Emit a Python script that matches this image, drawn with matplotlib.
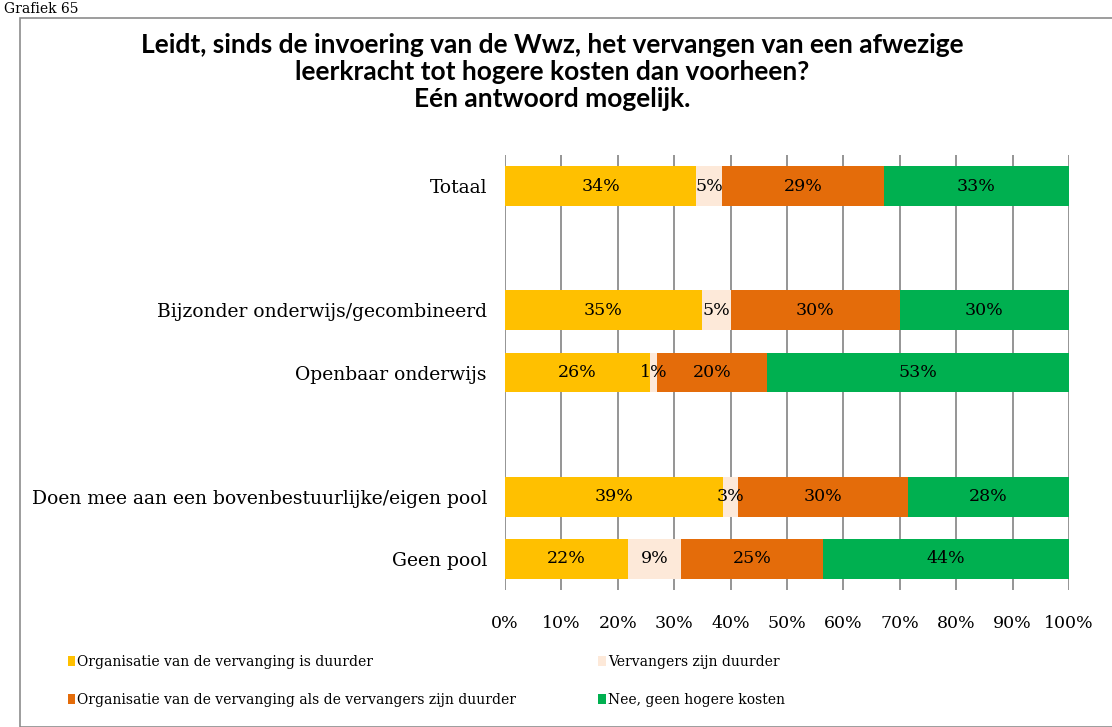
import matplotlib
matplotlib.use("Agg")
import matplotlib.pyplot as plt
from matplotlib.patches import Rectangle
import numpy as np

categories = ["Totaal", "Bijzonder onderwijs/gecombineerd", "Openbaar onderwijs",
              "Doen mee aan een bovenbestuurlijke/eigen pool", "Geen pool"]
positions = [0, 2, 3, 5, 6]
series_names = ["Organisatie van de vervanging is duurder",
                "Vervangers zijn duurder",
                "Organisatie van de vervanging als de vervangers zijn duurder",
                "Nee, geen hogere kosten"]
org_duurder = [33.9, 34.9, 25.7, 38.7, 21.8]
vervangers_duurder = [4.6, 5.2, 1.3, 2.6, 9.4]
beide_duurder = [28.7, 29.9, 19.5, 30.2, 25.2]
nee = [32.8, 30.0, 53.5, 28.5, 43.6]
value_labels = [["34%", "35%", "26%", "39%", "22%"],
                ["5%", "5%", "1%", "3%", "9%"],
                ["29%", "30%", "20%", "30%", "25%"],
                ["33%", "30%", "53%", "28%", "44%"]]
colors = ["#FFC000", "#FDE9D9", "#E46C0A", "#00B050"]
xticks = list(range(0, 101, 10))

serif = ["DejaVu Serif"]

fig = plt.figure(figsize=(11.12, 7.27), dpi=100)
ax = fig.add_axes([505/1112, 1-590/727, (1069-505)/1112, (590-155)/727])

series = [org_duurder, vervangers_duurder, beide_duurder, nee]
left = np.zeros(len(categories))
for vals, col, name, labs in zip(series, colors, series_names, value_labels):
    vals = np.array(vals)
    ax.barh(positions, vals, left=left, height=0.64, color=col, label=name, zorder=2)
    for p, l, v, t in zip(positions, left, vals, labs):
        ax.text(l + v/2, p, t, ha="center", va="center",
                fontsize=12.5, family=serif, zorder=3)
    left += vals

ax.set_xlim(0, 100)
ax.set_ylim(6.5, -0.5)
ax.set_xticks(xticks)
ax.set_xticklabels([f"{t}%" for t in xticks], family=serif, fontsize=12.5)
ax.set_yticks(positions)
ax.set_yticklabels(categories, family=serif, fontsize=13.5)
ax.tick_params(axis="both", length=0)
ax.tick_params(axis="x", pad=18)
ax.tick_params(axis="y", pad=13)
ax.grid(axis="x", color="#8C8C8C", linewidth=1.3, zorder=0)
for s in ax.spines.values():
    s.set_visible(False)

fig.text(552/1112, 1-72/727,
         "Leidt, sinds de invoering van de Wwz, het vervangen van een afwezige\n"
         "leerkracht tot hogere kosten dan voorheen?\nEén antwoord mogelijk.",
         ha="center", va="center", fontsize=19, fontweight="bold",
         family=["Lato", "DejaVu Sans"], linespacing=1.17)
fig.text(4/1112, 1-2/727, "Grafiek 65", fontsize=10, family=serif, va="top")

fig.patches.append(Rectangle((20/1112, 0.0), 1.2, 1-18/727, transform=fig.transFigure,
                             fill=False, edgecolor="#8C8C8C", linewidth=1.2))

handles, labels = ax.get_legend_handles_labels()
order = [0, 2, 1, 3]
leg = fig.legend([handles[i] for i in order], [labels[i] for i in order],
                 loc="upper left", bbox_to_anchor=(62/1112, 1-649/727), ncol=2,
                 frameon=False, prop={"family": serif, "size": 10},
                 handlelength=0.55, handleheight=0.7, handletextpad=0.15,
                 columnspacing=5.9, labelspacing=1.75, borderaxespad=0)

fig.savefig("out.png", dpi=100)
